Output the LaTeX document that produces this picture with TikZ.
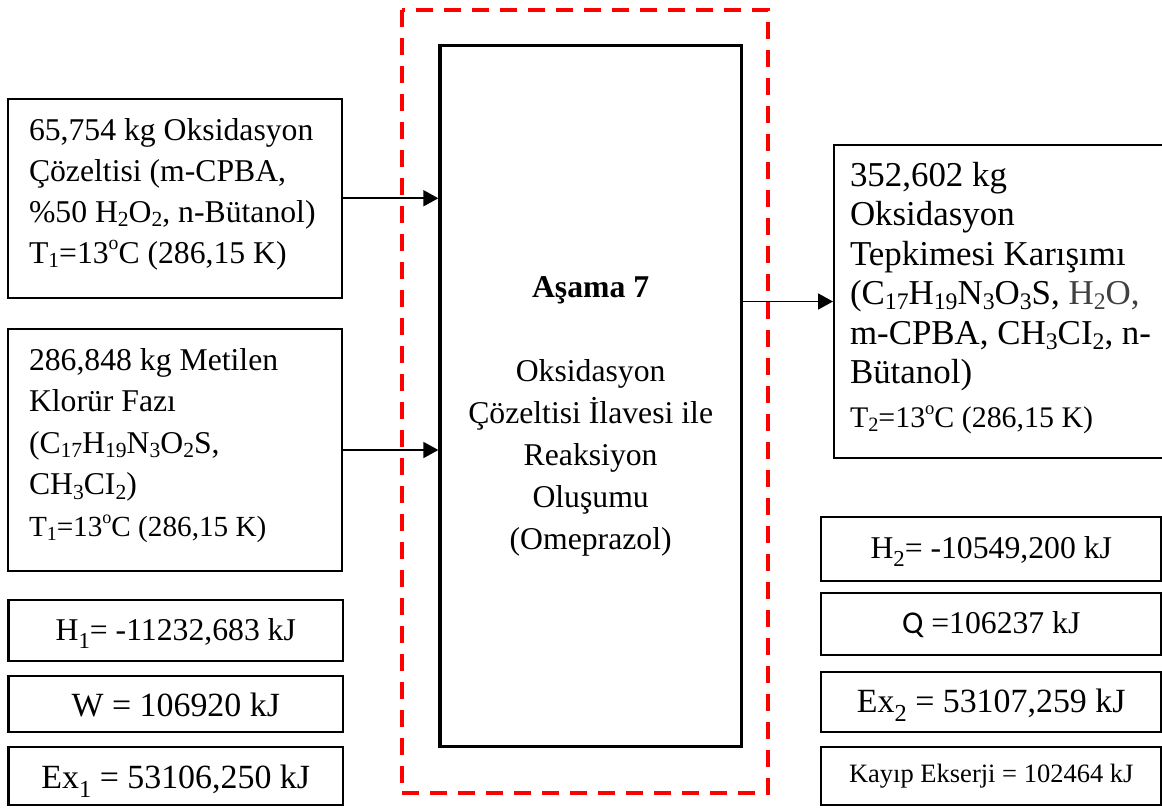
\documentclass[tikz,border=0pt]{standalone}
\usepackage{fontspec}
\usepackage{graphicx}
\usetikzlibrary{arrows.meta}
\setmainfont{Liberation Serif}
\newfontfamily\calibri{Carlito}
\definecolor{dkgray}{HTML}{404040}
% Word-style subscripts, math-style subscripts and the small raised "o" of degrees
\newcommand\sbs[1]{\raisebox{-0.15em}{\scalebox{0.68}{#1}}}
\newcommand\msb[1]{\raisebox{-0.28em}{\scalebox{0.72}{#1}}}
\newcommand\dg{\raisebox{0.42em}{\scalebox{0.62}{o}}}
\newcommand\fs[2]{\fontsize{#1}{#2}\selectfont}
\begin{document}
\begin{tikzpicture}[x=1pt,y=-1pt,
  frame/.style={draw, line width=2pt, inner sep=0pt},
  valbox/.style={draw, line width=2.5pt, inner sep=0pt},
  mainbox/.style={draw, line width=3.3pt, inner sep=0pt},
  reddash/.style={draw=red, line width=4pt, dash pattern=on 17pt off 11pt},
  arr/.style={line width=1.8pt, -{Triangle[length=15pt,width=16pt]}},
  txt/.style={inner sep=0pt, outer sep=0pt}]
\useasboundingbox (0,0) rectangle (1162,807);

% control volume of the stage
\draw[reddash] (401.7,10) rectangle (768,793.3);

% process block
\node[mainbox, minimum width=301.3pt, minimum height=701pt] (main) at (590.65,396.2) {};
\node[txt, anchor=base, font=\fs{31.7}{42}] (maint) at (590.65,297)
  {\begin{tabular}[t]{@{}c@{}}\textbf{Aşama 7}\\ \\ Oksidasyon\\ Çözeltisi İlavesi ile\\ Reaksiyon\\ Oluşumu\\ (Omeprazol)\end{tabular}};

% inlet streams
\node[frame, minimum width=334pt, minimum height=198.5pt] (in1) at (175,198.25) {};
\node[txt, anchor=base west, font=\fs{31.7}{41}] (in1t) at (29,140)
  {\begin{tabular}[t]{@{}l@{}}65,754 kg Oksidasyon\\ Çözeltisi (m-CPBA,\\ \%50 H\sbs{2}O\sbs{2}, n-Bütanol)\\ T\sbs{1}=13\dg C (286,15 K)\end{tabular}};

\node[frame, minimum width=334pt, minimum height=242pt] (in2) at (175,450) {};
\node[txt, anchor=base west, font=\fs{31.7}{41.5}] (in2t) at (29,370)
  {\begin{tabular}[t]{@{}l@{}}286,848 kg Metilen\\ Klorür Fazı\\ (C\sbs{17}H\sbs{19}N\sbs{3}O\sbs{2}S,\\ CH\sbs{3}CI\sbs{2})\\ {\fs{29.2}{40}T\sbs{1}=13\dg C (286,15 K)}\end{tabular}};

% outlet stream
\node[frame, minimum width=336pt, minimum height=313pt] (out) at (1002,301.5) {};
\node[txt, anchor=base west, font=\fs{34.9}{39.5}] (outt) at (850,186)
  {\begin{tabular}[t]{@{}l@{}}352,602 kg\\ Oksidasyon\\ Tepkimesi Karışımı\\ (C\sbs{17}H\sbs{19}N\sbs{3}O\sbs{3}S, \textcolor{dkgray}{H\sbs{2}O,}\\ m-CPBA, CH\sbs{3}CI\sbs{2}, n-\\ Bütanol)\\[4pt] {\fs{29.9}{40}T\sbs{2}=13\dg C (286,15 K)}\end{tabular}};

% energy and exergy values, left column
\node[valbox, minimum width=334.3pt, minimum height=61pt] (h1) at (175.8,630.5) {};
\node[txt, anchor=base, font=\fs{31.7}{34}] (h1t) at (175.8,640) {H\msb{1}= -11232,683 kJ};
\node[valbox, minimum width=334.3pt, minimum height=56pt] (w) at (175.8,704) {};
\node[txt, anchor=base, font=\fs{33.9}{36}] (wt) at (175.8,716) {W = 106920 kJ};
\node[valbox, minimum width=334.3pt, minimum height=58pt] (ex1) at (175.8,776) {};
\node[txt, anchor=base, font=\fs{33.9}{36}] (ex1t) at (175.8,788) {Ex\msb{1} = 53106,250 kJ};

% energy and exergy values, right column
\node[valbox, minimum width=340.5pt, minimum height=64pt] (h2) at (991.25,549) {};
\node[txt, anchor=base, font=\fs{31.7}{34}] (h2t) at (991.25,558) {H\msb{2}= -10549,200 kJ};
\node[valbox, minimum width=340.5pt, minimum height=62pt] (q) at (991.25,624) {};
\node[txt, anchor=base, font=\fs{31.7}{34}] (qt) at (991.25,633) {{\calibri Q} =106237 kJ};
\node[valbox, minimum width=340.5pt, minimum height=60pt] (ex2) at (991.25,702) {};
\node[txt, anchor=base, font=\fs{33.9}{36}] (ex2t) at (991.25,712) {Ex\msb{2} = 53107,259 kJ};
\node[valbox, minimum width=340.5pt, minimum height=58pt] (loss) at (991.25,776) {};
\node[txt, anchor=base, font=\fs{26.5}{30}] (losst) at (991.25,782) {Kayıp Ekserji = 102464 kJ};

% stream connectors
\draw[arr] (in1.east) -- (in1.east -| main.west);
\draw[arr] (in2.east) -- (in2.east -| main.west);
\draw[arr] (main.east |- out.west) -- (out.west);
\end{tikzpicture}
\end{document}
